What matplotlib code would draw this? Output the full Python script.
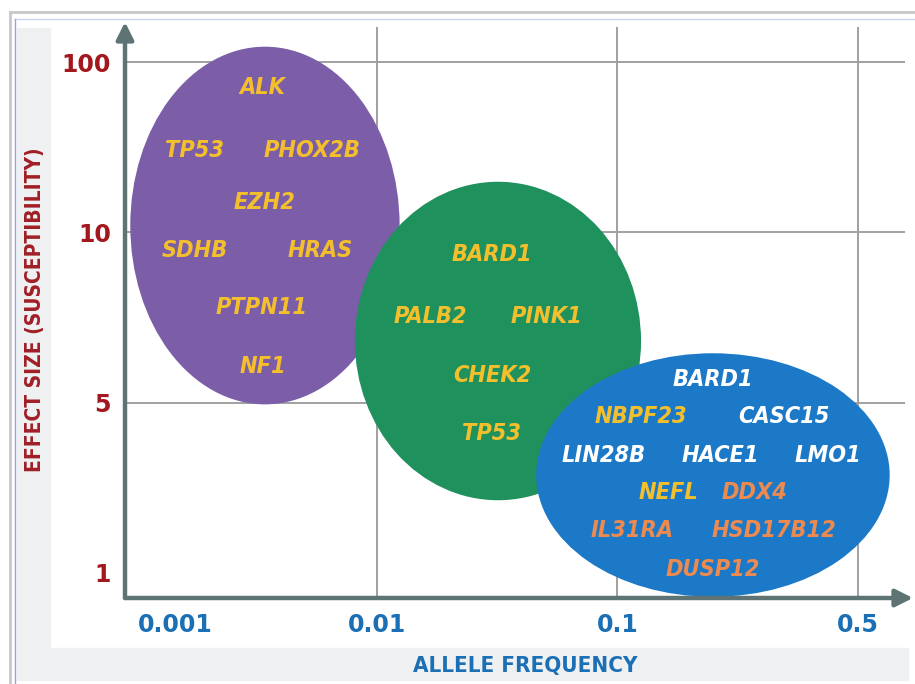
import matplotlib
matplotlib.use("Agg")
import matplotlib.pyplot as plt
from matplotlib.patches import Ellipse, Rectangle
from matplotlib.lines import Line2D

# axis categories (placed on an evenly spaced ordinal scale)
freq_labels = ["0.001", "0.01", "0.1", "0.5"]
freq_pos = [0.16, 1, 2, 3]
effect_labels = ["1", "5", "10", "100"]
effect_pos = [0, 1, 2, 3]

# groups: center (freq, effect), width, height, colour
group_names = ["rare high-penetrance", "low-frequency", "common"]
group_center = [(0.534, 2.04), (1.503, 1.362), (2.397, 0.575)]
group_size = [(1.12, 2.10), (1.19, 1.87), (1.47, 1.43)]
group_color = ["#7B5DA8", "#1F915D", "#1C79C7"]

YEL = "#F4BF2C"
WHT = "#FFFFFF"
ORG = "#EC8A4F"

genes = ["ALK", "TP53", "PHOX2B", "EZH2", "SDHB", "HRAS", "PTPN11", "NF1",
         "BARD1", "PALB2", "PINK1", "CHEK2", "TP53",
         "BARD1", "NBPF23", "CASC15", "LIN28B", "HACE1", "LMO1",
         "NEFL", "DDX4", "IL31RA", "HSD17B12", "DUSP12"]
gene_x = [0.522, 0.243, 0.730, 0.534, 0.243, 0.763, 0.518, 0.526,
          1.478, 1.220, 1.703, 1.478, 1.478,
          2.397, 2.098, 2.692, 1.944, 2.426, 2.875,
          2.210, 2.568, 2.060, 2.651, 2.397]
gene_y = [2.848, 2.478, 2.478, 2.178, 1.891, 1.891, 1.556, 1.210,
          1.867, 1.503, 1.503, 1.157, 0.816,
          1.133, 0.916, 0.916, 0.687, 0.687, 0.687,
          0.470, 0.470, 0.252, 0.252, 0.023]
gene_color = [YEL] * 8 + [YEL] * 5 + [WHT, YEL, WHT, WHT, WHT, WHT,
                                       YEL, ORG, ORG, ORG, ORG]

W, H = 915, 684
fig = plt.figure(figsize=(W / 100, H / 100), dpi=100)
fig.patch.set_facecolor("white")

# slide frame decoration
fig.patches.append(Rectangle((17 / W, 1 - 648 / H), 33 / W, 620 / H,
                             transform=fig.transFigure, color="#EEF0F1", zorder=0))
fig.patches.append(Rectangle((17 / W, 1 - 680 / H), 891 / W, 32 / H,
                             transform=fig.transFigure, color="#EEF0F1", zorder=0))
fig.lines.append(Line2D([10 / W, 1], [1 - 12 / H] * 2, transform=fig.transFigure,
                        color="#C8C8C8", lw=2))
fig.lines.append(Line2D([10 / W] * 2, [0, 1 - 12 / H], transform=fig.transFigure,
                        color="#C8C8C8", lw=2))
fig.lines.append(Line2D([15 / W, 1], [1 - 19 / H] * 2, transform=fig.transFigure,
                        color="#C9D4F2", lw=1))
fig.lines.append(Line2D([15 / W] * 2, [0, 1 - 19 / H], transform=fig.transFigure,
                        color="#8FA6E6", lw=1))

ax = fig.add_axes([125 / W, 86 / H, 788 / W, 576 / H])
ax.set_xlim(-0.048, 3.229)
ax.set_ylim(-0.147, 3.235)
for s in ax.spines.values():
    s.set_visible(False)
ax.set_facecolor("none")

# grid
ax.vlines(freq_pos[1:], -0.147, 3.206, color="#A0A0A0", lw=1.4, zorder=1)
ax.hlines(effect_pos[1:], -0.048, 3.195, color="#A0A0A0", lw=1.4, zorder=1)

for (cx, cy), (w, h), c in zip(group_center, group_size, group_color):
    ax.add_patch(Ellipse((cx, cy), w, h, facecolor=c, edgecolor="none", zorder=2))

for g, x, y, c in zip(genes, gene_x, gene_y, gene_color):
    ax.text(x, y, g, color=c, fontsize=16.8, fontweight="bold", fontstyle="italic",
            stretch="condensed", family="DejaVu Sans",
            ha="center", va="center", zorder=3)

# arrow axes
arrow_kw = dict(arrowstyle="-|>", color="#5E7474", lw=3.2, mutation_scale=26,
                shrinkA=0, shrinkB=0)
ax.annotate("", xy=(0, 1), xytext=(0, 0), xycoords="axes fraction",
            arrowprops=arrow_kw, zorder=4)
ax.annotate("", xy=(1, 0), xytext=(0, 0), xycoords="axes fraction",
            arrowprops=arrow_kw, zorder=4)

ax.set_xticks(freq_pos, freq_labels)
ax.set_yticks(effect_pos, effect_labels)
ax.tick_params(length=0)
ax.tick_params(axis="x", pad=11, labelsize=17, labelcolor="#1A6FB5")
ax.tick_params(axis="y", pad=10, labelsize=17, labelcolor="#A3171F")
for lab in ax.get_xticklabels() + ax.get_yticklabels():
    lab.set_fontweight("bold")
    lab.set_family("DejaVu Sans")

fig.text(35 / W, 1 - 310 / H, "EFFECT SIZE (SUSCEPTIBILITY)", rotation=90,
         color="#A11F26", fontsize=15, fontweight="bold", stretch="condensed",
         family="DejaVu Sans", ha="center", va="center")
fig.text(525 / W, 1 - 666 / H, "ALLELE FREQUENCY", color="#1A6FB5", fontsize=16,
         fontweight="bold", stretch="condensed", family="DejaVu Sans",
         ha="center", va="center")

fig.savefig("out.png", dpi=100)
